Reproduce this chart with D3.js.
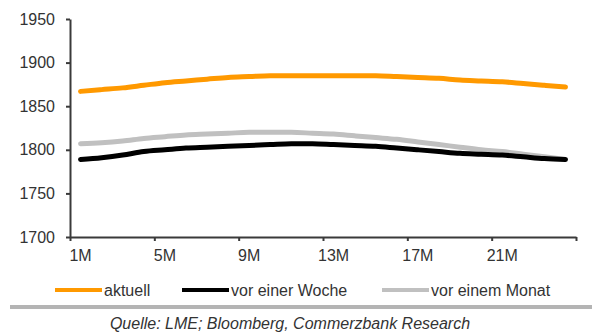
<!DOCTYPE html>
<html>
<head>
<meta charset="utf-8">
<script src="https://cdn.jsdelivr.net/npm/d3@7"></script>
<style>
  body { margin: 0; background: #fff; }
  svg { display: block; font-family: "Liberation Sans", Arial, sans-serif; }
  .axis text { font-size: 16px; fill: #333; }
  .axis path, .axis line { stroke: #3a3a3a; }
  .legend-text { font-size: 16px; fill: #333; }
  .source { font-size: 16px; font-style: italic; fill: #333; }
</style>
</head>
<body>
<svg id="chart" width="597" height="333"></svg>
<script>
// months on the x axis
var months = ["1M","2M","3M","4M","5M","6M","7M","8M","9M","10M","11M","12M",
              "13M","14M","15M","16M","17M","18M","19M","20M","21M","22M","23M","24M"];
var monthLabels = ["1M","5M","9M","13M","17M","21M"];
var yTicks = [1700, 1750, 1800, 1850, 1900, 1950];

var aktuell = [1867,1869,1871,1874,1877,1879,1881,1883,1884,1885,1885,1885,
               1885,1885,1885,1884,1883,1882,1880,1879,1878,1876,1874,1872];
var vorEinerWoche = [1789,1791,1794,1798,1800,1802,1803,1804,1805,1806,1807,1807,
                     1806,1805,1804,1802,1800,1798,1796,1795,1794,1792,1790,1789];
var vorEinemMonat = [1807,1808,1810,1813,1815,1817,1818,1819,1820,1820,1820,1819,
                     1818,1816,1814,1812,1809,1806,1803,1800,1798,1795,1792,1789];

var seriesNames = ["aktuell", "vor einer Woche", "vor einem Monat"];
var seriesColors = ["#ff9900", "#000000", "#c0c0c0"];
var seriesData = [aktuell, vorEinerWoche, vorEinemMonat];

var svg = d3.select("#chart");
var plot = {left: 70, right: 576, top: 19, bottom: 237};

var x = d3.scaleBand().domain(months).range([plot.left, plot.right]).padding(0);
// boundaries between categories, for the tick marks
var xEdge = d3.scaleLinear().domain([0, months.length]).range([plot.left, plot.right]);
var y = d3.scaleLinear().domain([1700, 1950]).range([plot.bottom, plot.top]);

// lines first, axes on top
var line = d3.line()
    .x(function(d, i){ return x(months[i]) + x.bandwidth() / 2; })
    .y(function(d){ return y(d); })
    .curve(d3.curveMonotoneX);

// draw grey, black, orange (orange on top)
[2, 1, 0].forEach(function(k){
    svg.append("path")
        .datum(seriesData[k])
        .attr("d", line)
        .attr("fill", "none")
        .attr("stroke", seriesColors[k])
        .attr("stroke-width", 5)
        .attr("stroke-linecap", "round")
        .attr("stroke-linejoin", "round");
});

// y axis
var yAxis = svg.append("g")
    .attr("class", "y-axis axis")
    .attr("transform", "translate(" + plot.left + ",0)")
    .call(d3.axisLeft(y).tickValues(yTicks).tickSize(4).tickSizeOuter(0).tickPadding(11).tickFormat(d3.format("d")));
yAxis.select(".domain").attr("stroke-width", 2);
yAxis.selectAll(".tick line").attr("stroke-width", 2);

// x axis: tick marks at category edges
var xTickAxis = svg.append("g")
    .attr("class", "x-axis axis")
    .attr("transform", "translate(0," + plot.bottom + ")")
    .call(d3.axisBottom(xEdge).tickValues([0,4,8,12,16,20,24]).tickSize(4).tickSizeOuter(0).tickFormat(""));
xTickAxis.select(".domain").attr("stroke-width", 2);
xTickAxis.selectAll(".tick line").attr("stroke-width", 2);

// x axis labels centred in categories
var xLabelAxis = svg.append("g")
    .attr("class", "x-labels axis")
    .attr("transform", "translate(0," + plot.bottom + ")")
    .call(d3.axisBottom(x).tickValues(monthLabels).tickSize(0).tickPadding(13));
xLabelAxis.select(".domain").remove();

// legend
var legendX = [55, 182, 382];
var legend = svg.selectAll(".legend").data(seriesNames)
    .enter()
    .append("g")
    .attr("class", "legend")
    .attr("transform", function(d, i){ return "translate(" + legendX[i] + ",290)"; });

legend.append("line")
    .attr("x1", 0).attr("x2", 47)
    .attr("y1", 0).attr("y2", 0)
    .attr("stroke", function(d, i){ return seriesColors[i]; })
    .attr("stroke-width", 4);

legend.append("text")
    .attr("class", "legend-text")
    .attr("x", 49)
    .attr("y", 6)
    .text(function(d){ return d; });

// separator
svg.append("line")
    .attr("x1", 10).attr("x2", 592)
    .attr("y1", 307).attr("y2", 307)
    .attr("stroke", "#b4b4b4")
    .attr("stroke-width", 4);

// source
svg.append("text")
    .attr("class", "source")
    .attr("x", 290)
    .attr("y", 329)
    .attr("text-anchor", "middle")
    .text("Quelle: LME; Bloomberg, Commerzbank Research");
</script>
</body>
</html>
